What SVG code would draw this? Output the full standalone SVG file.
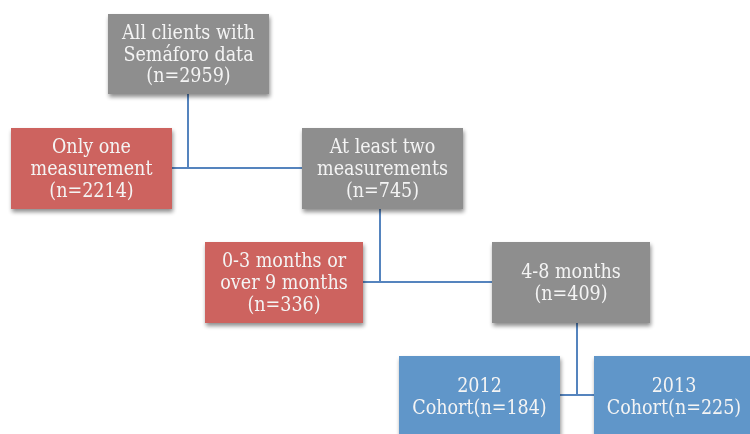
<svg xmlns="http://www.w3.org/2000/svg" width="750" height="434" viewBox="0 0 750 434">
<defs>
<filter id="sh" x="-10%" y="-10%" width="130%" height="140%">
<feGaussianBlur in="SourceAlpha" stdDeviation="2"/>
<feOffset dx="1" dy="3" result="b"/>
<feComponentTransfer><feFuncA type="linear" slope="0.45"/></feComponentTransfer>
<feMerge><feMergeNode/><feMergeNode in="SourceGraphic"/></feMerge>
</filter>
</defs>
<style>
.g{fill:#8e8e8e}
.r{fill:#cd645f}
.b{fill:#6096c9}
.t{font-family:"DejaVu Serif","Liberation Serif",serif;font-stretch:condensed;font-size:19.5px;fill:#f4f4f4;text-anchor:middle}
.c{stroke:#5584be;stroke-width:2;fill:none}
</style>
<rect width="750" height="434" fill="#ffffff"/>
<g id="connectors">
<path class="c" d="M188,94 V168 M172,168 H302"/>
<path class="c" d="M380,209 V282 M363,282 H492"/>
<path class="c" d="M577,323 V395 M560,395 H594"/>
</g>
<g id="n1" filter="url(#sh)">
<rect class="g" x="108" y="14" width="161" height="80"/>
<text class="t" x="188.5" y="39">All clients with</text>
<text class="t" x="188.5" y="61">Semáforo data</text>
<text class="t" x="188.5" y="82">(n=2959)</text>
</g>
<g id="n2" filter="url(#sh)">
<rect class="r" x="11" y="128" width="161" height="81"/>
<text class="t" x="91.5" y="153">Only one</text>
<text class="t" x="91.5" y="175">measurement</text>
<text class="t" x="91.5" y="197">(n=2214)</text>
</g>
<g id="n3" filter="url(#sh)">
<rect class="g" x="302" y="128" width="161" height="81"/>
<text class="t" x="382.5" y="153">At least two</text>
<text class="t" x="382.5" y="175">measurements</text>
<text class="t" x="382.5" y="197">(n=745)</text>
</g>
<g id="n4" filter="url(#sh)">
<rect class="r" x="205" y="242" width="158" height="81"/>
<text class="t" x="284" y="267">0-3 months or</text>
<text class="t" x="284" y="289">over 9 months</text>
<text class="t" x="284" y="311">(n=336)</text>
</g>
<g id="n5" filter="url(#sh)">
<rect class="g" x="492" y="242" width="158" height="81"/>
<text class="t" x="571" y="278">4-8 months</text>
<text class="t" x="571" y="300">(n=409)</text>
</g>
<g id="n6" filter="url(#sh)">
<rect class="b" x="399" y="356" width="161" height="90"/>
<text class="t" x="479.5" y="392">2012</text>
<text class="t" x="479.5" y="414">Cohort(n=184)</text>
</g>
<g id="n7" filter="url(#sh)">
<rect class="b" x="594" y="356" width="161" height="90"/>
<text class="t" x="674" y="392">2013</text>
<text class="t" x="674" y="414">Cohort(n=225)</text>
</g>
</svg>
